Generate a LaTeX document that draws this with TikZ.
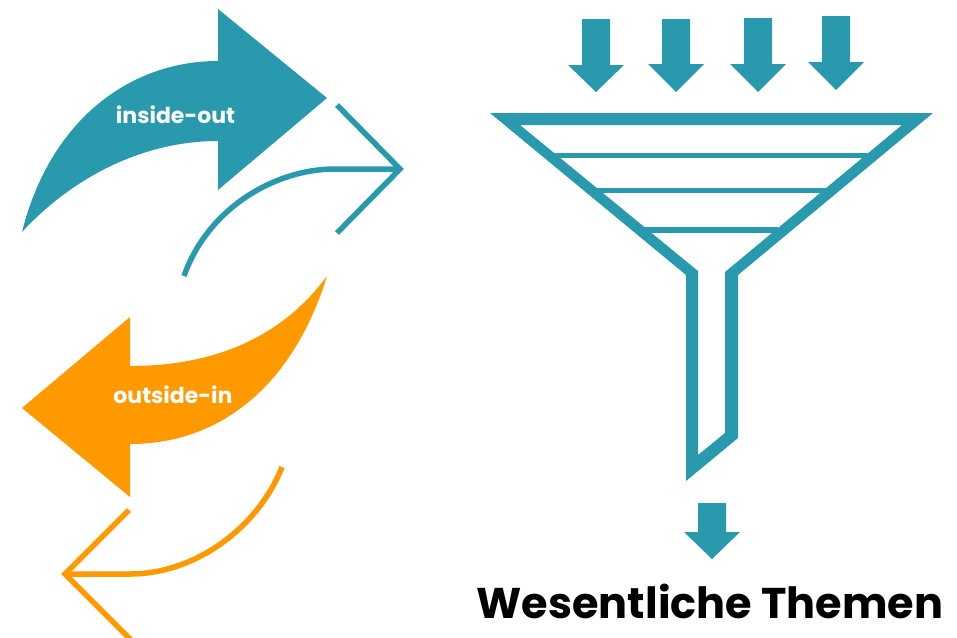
\documentclass[tikz,border=0pt]{standalone}
\usepackage{fontspec}
\setmainfont{Poppins}
\definecolor{teal1}{HTML}{2999AE}
\definecolor{orange1}{HTML}{FF9900}
\tikzset{
    label1/.style={text=white,font=\fontsize{22}{24}\selectfont\bfseries,inner sep=0pt,anchor=base},
    outline1/.style={line width=5.5pt,line join=miter},
    band1/.style={line width=5.5pt,teal1},
}
\begin{document}
\begin{tikzpicture}[x=1pt,y=-1pt]
        \useasboundingbox (0,0) rectangle (957,637);
        \clip (0,0) rectangle (957,637);

        \fill[teal1] (22,232) .. controls (50,120) and (130,61) .. (218,61) -- (218,9) -- (327,98) -- (218,190) -- (218,141) .. controls (140,141) and (70,180) .. (22,232); % Big arrow.
        \draw[outline1,teal1] (184,276) .. controls (208,208) and (275,169) .. (335,169) -- (398,169);
        \draw[outline1,teal1] (337,105) -- (400,169) -- (337,233);

        \fill[orange1] (327,276) .. controls (280,340) and (210,366) .. (130,366) -- (130,317) -- (22,408) -- (130,497) -- (130,444) .. controls (225,444) and (295,380) .. (327,276);
        \draw[outline1,orange1] (282,467) .. controls (258,528) and (195,574) .. (130,574) -- (68,574);
        \draw[outline1,orange1] (129,510) -- (65,574) -- (133,642);

        \node[label1] (insideout) at (175.5,123) {inside-out};
        \node[label1] (outsidein) at (173,403) {outside-in};

        % Funnel.
        \fill[teal1,even odd rule] (490,113) -- (933,113) -- (738,275) -- (738,438) -- (686,481) -- (686,275) -- cycle
            (520,125) -- (902,125) -- (725,272) -- (725,433) -- (698,455) -- (698,271) -- cycle;
        \draw[band1] (555,155.5) -- (868,155.5);
        \draw[band1] (597,190.5) -- (827,190.5);
        \draw[band1] (643,230) -- (778,230);

        \foreach \x/\y/\h/\t in {596/19/46/73,676/19/45/73,758/18/46/74,836/16/46/74,712/503/29/56}
            \fill[teal1] (\x-14,\y) -- (\x+14,\y) -- (\x+14,\y+\h) -- (\x+28,\y+\h) -- (\x,\y+\t) -- (\x-28,\y+\h) -- (\x-14,\y+\h) -- cycle;

        \node[font=\fontsize{43}{52}\selectfont\bfseries,inner sep=0pt,anchor=base] (themen) at (710,618) {Wesentliche Themen};
    \end{tikzpicture}
\end{document}
